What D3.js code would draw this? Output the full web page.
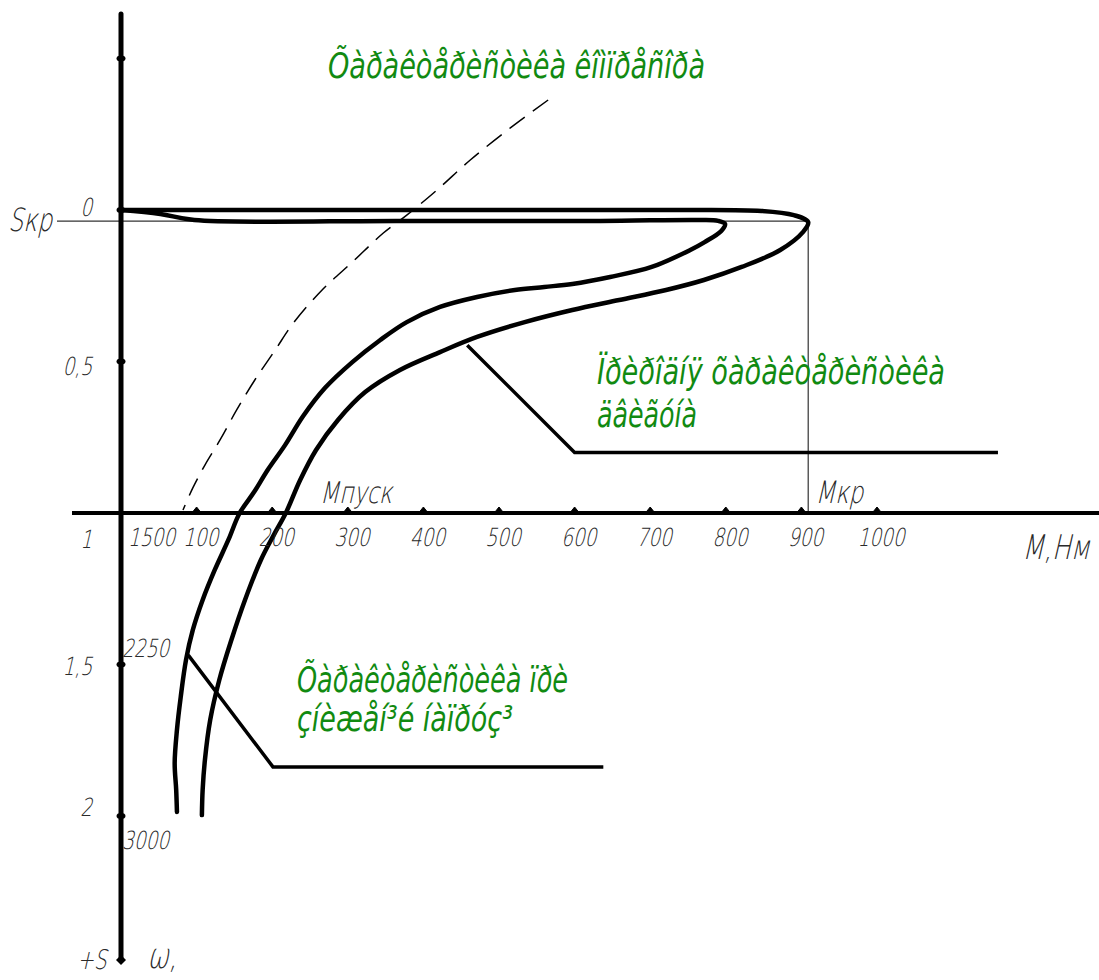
<!DOCTYPE html>
<html>
<head>
<meta charset="utf-8">
<script src="https://cdnjs.cloudflare.com/ajax/libs/d3/7.8.5/d3.min.js"></script>
<style>
	body { margin: 0; background: #fff; }
	.lbl { font-family: "DejaVu Sans", sans-serif; font-weight: 200; fill: #2a2a2a; }
	.grn { font-family: "Liberation Sans Narrow", "DejaVu Sans Condensed", "Liberation Sans", sans-serif; font-style: italic; fill: #118a11; }
</style>
</head>
<body>
<svg id="chart"></svg>
<script>
// axis values
var torqueTicks = [100, 200, 300, 400, 500, 600, 700, 800, 900, 1000];
var slipDots = [-0.5, 0, 0.5, 1.5, 2];
var slipValues = [0, 0.5, 1, 1.5, 2];
var slipLabels = ["0", "0,5", "1", "1,5", "2"];
var speedValues = [1, 1.5, 2];
var speedLabels = ["1500", "2250", "3000"];

// critical point and starting torque
var Mkr = 909, Skr = 0.037, Mpusk = 218;

// natural characteristic of the motor (M, s)
var naturalM = [0, 240, 480, 720, 847, 890, 909, 902, 872, 821, 771, 721, 659, 597, 534, 471, 422, 369, 323, 287, 258, 237, 218, 202, 185, 164, 146, 130, 118, 111, 108, 107];
var naturalS = [0, 0, 0, 0, 0.003, 0.017, 0.04, 0.073, 0.132, 0.188, 0.231, 0.264, 0.297, 0.33, 0.37, 0.419, 0.469, 0.528, 0.601, 0.693, 0.792, 0.891, 1.0, 1.073, 1.155, 1.287, 1.419, 1.551, 1.683, 1.815, 1.914, 1.997];

// characteristic at reduced voltage
var reducedM = [0, 52, 97, 369, 634, 766, 790, 799, 794, 772, 753, 702, 647, 597, 560, 521, 471, 422, 378, 343, 306, 270, 241, 217, 194, 176, 157, 142, 124, 108, 95, 86, 79, 74, 71, 73, 74];
var reducedS = [0, 0.013, 0.033, 0.036, 0.036, 0.033, 0.036, 0.046, 0.069, 0.106, 0.132, 0.188, 0.221, 0.244, 0.254, 0.264, 0.287, 0.32, 0.37, 0.429, 0.502, 0.587, 0.68, 0.776, 0.858, 0.931, 1.0, 1.089, 1.188, 1.287, 1.386, 1.485, 1.607, 1.716, 1.825, 1.914, 1.987];

// compressor characteristic (dashed)
var compressorM = [565, 515, 462, 418, 378, 347, 306, 266, 228, 204, 177, 153, 131, 111, 95, 82];
var compressorS = [-0.363, -0.271, -0.165, -0.066, 0.017, 0.076, 0.172, 0.264, 0.373, 0.462, 0.561, 0.66, 0.759, 0.842, 0.917, 0.99];

// leader lines for the captions
var leaderNaturalM = [458, 600, 1160], leaderNaturalS = [0.446, 0.8, 0.8];
var leaderReducedM = [89, 201, 638], leaderReducedS = [1.469, 1.838, 1.838];

// captions
var titleCompressor = "Õàðàêòåðèñòèêà êîìïðåñîðà";
var titleNatural = ["Ïðèðîäíÿ õàðàêòåðèñòèêà", "äâèãóíà"];
var titleReduced = ["Õàðàêòåðèñòèêà ïðè", "çíèæåí³é íàïðóç³"];

var width = 1099, height = 980;

var svg = d3.select("#chart")
		.attr("width", width)
		.attr("height", height);

// set the ranges
var x = d3.scaleLinear().domain([0, 1000]).range([121, 877]);
var y = d3.scaleLinear().domain([0, 1]).range([210, 513]);

var zip = function (ms, ss) {
	return ms.map(function (m, i) { return [m, ss[i]]; });
};

var line = d3.line()
		.x(function (d) { return x(d[0]); })
		.y(function (d) { return y(d[1]); })
		.curve(d3.curveCatmullRom.alpha(0.5));

var straight = d3.line()
		.x(function (d) { return x(d[0]); })
		.y(function (d) { return y(d[1]); });

// thin construction lines (Skr and Mkr)
svg.append("line")
		.attr("x1", 57).attr("x2", x(Mkr))
		.attr("y1", y(Skr)).attr("y2", y(Skr))
		.attr("stroke", "#333").attr("stroke-width", 1.2);
svg.append("line")
		.attr("x1", x(Mkr)).attr("x2", x(Mkr))
		.attr("y1", y(Skr)).attr("y2", y(1))
		.attr("stroke", "#333").attr("stroke-width", 1.2);

// axes
svg.append("line")
		.attr("x1", x(0)).attr("x2", x(0))
		.attr("y1", y(-0.647)).attr("y2", y(2.475))
		.attr("stroke", "#000").attr("stroke-width", 5)
		.attr("stroke-linecap", "round");
svg.append("line")
		.attr("x1", 72).attr("x2", width)
		.attr("y1", y(1)).attr("y2", y(1))
		.attr("stroke", "#000").attr("stroke-width", 4);

// tick bumps on torque axis
svg.selectAll(".tq")
		.data(torqueTicks)
		.enter().append("path")
		.attr("class", "tq")
		.attr("d", function (d) {
			var cx = x(d), cy = y(1);
			return "M" + (cx - 4) + "," + (cy - 1) + "L" + cx + "," + (cy - 6) + "L" + (cx + 4) + "," + (cy - 1) + "Z";
		})
		.attr("fill", "#000").attr("stroke", "#000").attr("stroke-width", 1);

// dots on slip axis
svg.selectAll(".sd")
		.data(slipDots)
		.enter().append("ellipse")
		.attr("class", "sd")
		.attr("cx", x(0))
		.attr("cy", function (d) { return y(d); })
		.attr("rx", 4.5).attr("ry", 3)
		.attr("fill", "#000");
svg.append("path")
		.attr("d", "M" + (x(0) - 5) + "," + y(2.475) + "L" + x(0) + "," + (y(2.475) - 5) + "L" + (x(0) + 5) + "," + y(2.475) + "L" + x(0) + "," + (y(2.475) + 5) + "Z")
		.attr("fill", "#000");

// compressor curve
svg.append("path")
		.datum(zip(compressorM, compressorS))
		.attr("d", line)
		.attr("fill", "none")
		.attr("stroke", "#000")
		.attr("stroke-width", 1.5)
		.attr("stroke-dasharray", "19,10");

// motor characteristics
[zip(naturalM, naturalS), zip(reducedM, reducedS)].forEach(function (pts) {
	svg.append("path")
			.datum(pts)
			.attr("d", line)
			.attr("fill", "none")
			.attr("stroke", "#000")
			.attr("stroke-width", 4.5)
			.attr("stroke-linejoin", "round")
			.attr("stroke-linecap", "round");
});

// leaders
[zip(leaderNaturalM, leaderNaturalS), zip(leaderReducedM, leaderReducedS)].forEach(function (pts) {
	svg.append("path")
			.datum(pts)
			.attr("d", straight)
			.attr("fill", "none")
			.attr("stroke", "#000")
			.attr("stroke-width", 3.5);
});

// drawing-style labels
function gost(txt, px, py, size, anchor) {
	return svg.append("text")
			.attr("class", "lbl")
			.attr("text-anchor", anchor || "start")
			.attr("transform", "translate(" + px + "," + py + ") skewX(-13) scale(0.74,1)")
			.style("font-size", size + "px")
			.text(txt);
}

torqueTicks.forEach(function (d) {
	gost(String(d), x(d) + 4, y(1) + 33, 25, "middle");
});
var slipDy = [6, 13, 35, 10, 0];
slipValues.forEach(function (d, i) {
	gost(slipLabels[i], 92, y(d) + slipDy[i], 25, "end");
});
var speedDy = [33, -8, 33];
speedValues.forEach(function (d, i) {
	gost(speedLabels[i], x(0) + (i === 0 ? 7 : 1), y(d) + speedDy[i], 25, "start");
});

gost("Sкр", 52, y(Skr) + 10, 32, "end");
gost("Mпуск", x(Mpusk) + 34, y(1) - 10, 30, "start");
gost("Mкр", x(Mkr) + 7, y(1) - 10, 31, "start");
gost("M,Нм", 1022, y(1) + 46, 34, "start");
gost("+S", 77, y(2.475) + 9, 27, "start");
gost("ω,", 147, y(2.475) + 8, 35, "start");

// green captions
function caption(txt, px, py, len) {
	return svg.append("text")
			.attr("class", "grn")
			.attr("x", px).attr("y", py)
			.attr("textLength", len)
			.attr("lengthAdjust", "spacingAndGlyphs")
			.style("font-size", "35px")
			.text(txt);
}
caption(titleCompressor, 328, 78, 377);
caption(titleNatural[0], 597, 384, 348);
caption(titleNatural[1], 597, 427, 100);
caption(titleReduced[0], 297, 692, 271);
caption(titleReduced[1], 297, 731, 216);
</script>
</body>
</html>
